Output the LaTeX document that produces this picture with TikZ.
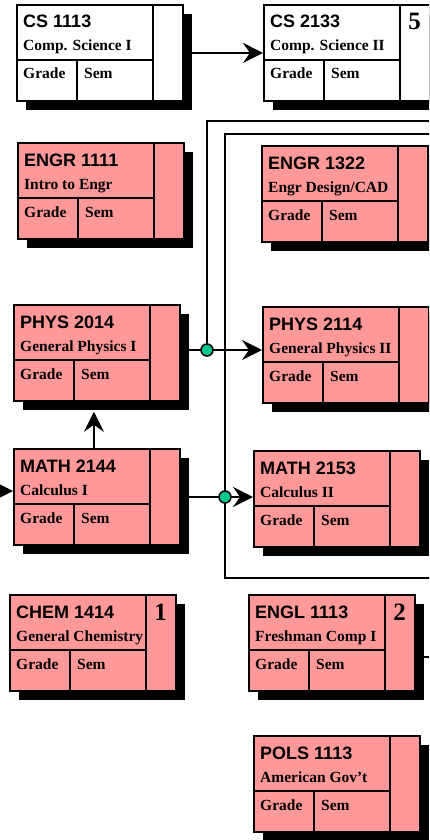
\documentclass[tikz,border=0pt]{standalone}
\usepackage{fontspec}
\setmainfont{Liberation Serif}
\newfontfamily\arialfam{Liberation Sans}
\usetikzlibrary{arrows.meta,calc}
\definecolor{boxpink}{RGB}{255,153,153}
\definecolor{dotgreen}{RGB}{0,200,140}
\newcommand\drawcourse[7][boxpink]{%
\begin{scope}[shift={(#3,#4)}]
\fill[black] (10,10) rectangle (176,106);
\node[cbox, fill=#1, anchor=north west] (#2) at (0,0) {};
\draw[cline] (137,0) -- (137,96) (0,56) -- (137,56) (61,56) -- (61,96);
\node[codefont, anchor=base west] (#2-code) at (7,24) {#5};
\node[titlefont, anchor=base west] (#2-title) at (7,47) {#6};
\node[gfont, anchor=base west] (#2-grade) at (7,75) {Grade};
\node[gfont, anchor=base west] (#2-sem) at (68,75) {Sem};
\node[numfont, anchor=base] (#2-num) at (151.5,26) {#7};
\end{scope}}
\begin{document}
\begin{tikzpicture}[x=1pt,y=-1pt,
  cbox/.style={draw, line width=1.8pt, minimum width=166pt, minimum height=96pt, inner sep=0pt},
  cline/.style={line width=1.8pt},
  codefont/.style={inner sep=0pt, font=\arialfam\bfseries\fontsize{18}{20}\selectfont},
  titlefont/.style={inner sep=0pt, font=\bfseries\fontsize{15.5}{17}\selectfont},
  gfont/.style={inner sep=0pt, font=\bfseries\fontsize{15.5}{17}\selectfont},
  numfont/.style={inner sep=0pt, font=\bfseries\fontsize{25}{27}\selectfont},
  conn/.style={line width=1.8pt},
  arr/.style={line width=1.8pt, -{Stealth[length=20pt,width=20pt,inset=7pt]}},
  jdot/.style={circle, draw, line width=1.5pt, fill=dotgreen, minimum size=12pt, inner sep=0pt}]
\useasboundingbox (0,0) rectangle (429,840);
\clip (0,0) rectangle (429,840);
\fill[white] (0,0) rectangle (429,840);
% courses
\drawcourse[white]{cs1}{16}{4}{CS 1113}{Comp. Science I}{}
\drawcourse[white]{cs2}{263}{4}{CS 2133}{Comp. Science II}{5}
\drawcourse{engr1}{17}{142}{ENGR 1111}{Intro to Engr}{}
\drawcourse{engr2}{261}{145}{ENGR 1322}{Engr Design/CAD}{}
\drawcourse{phys1}{13}{304}{PHYS 2014}{General Physics I}{}
\drawcourse{phys2}{262}{306}{PHYS 2114}{General Physics II}{}
\drawcourse{math1}{13}{448}{MATH 2144}{Calculus I}{}
\drawcourse{math2}{253}{450}{MATH 2153}{Calculus II}{}
\drawcourse{chem}{9}{594}{CHEM 1414}{General Chemistry}{1}
\drawcourse{engl}{248}{594}{ENGL 1113}{Freshman Comp I}{2}
\drawcourse{pols}{253}{735}{POLS 1113}{American Gov’t}{}
% junctions and off-page ends
\coordinate (j1) at (207,350);
\coordinate (j2) at (225,497);
\coordinate (o1) at (445,121);
\coordinate (o2) at (445,134);
\coordinate (o3) at (445,578);
\coordinate (o4) at (445,657);
\coordinate (in1) at (-30,491);
% connectors
\draw[arr] (cs1.east) -- (cs2.west);
\draw[conn] (phys1.east |- j1) -- (j1);
\draw[arr] (j1) -- (phys2.west |- j1);
\draw[conn] (j1) |- (o1);
\draw[conn] (math1.east |- j2) -- (j2);
\draw[arr] (j2) -- (math2.west |- j2);
\draw[conn] (o2) -| (j2) |- (o3);
\draw[arr] ($(math1.north)+(-3,0)$) -- ($(phys1.south)+(-3,10)$);
\draw[arr] (in1) -- (math1.west |- in1);
\draw[conn] (engl.east |- o4) -- (o4);
\node[jdot] (j1dot) at (j1) {};
\node[jdot] (j2dot) at (j2) {};
\end{tikzpicture}
\end{document}
